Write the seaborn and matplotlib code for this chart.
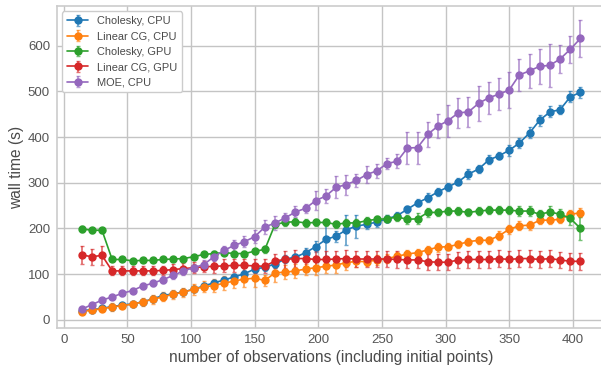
import matplotlib
matplotlib.use("Agg")
import matplotlib.pyplot as plt
import seaborn as sns

# number of observations at each measurement
n_obs = list(range(14, 407, 8))

labels = ["Cholesky, CPU", "Linear CG, CPU", "Cholesky, GPU", "Linear CG, GPU", "MOE, CPU"]

chol_cpu = [20, 22, 25, 29, 32, 35, 39, 46, 53, 57, 61, 67, 74, 81, 87, 94, 101, 111, 115, 122,
            133, 137, 147, 160, 176, 183, 197, 205, 209, 214, 221, 228, 242, 256, 267, 280, 291, 302, 319, 330,
            350, 359, 371, 387, 409, 437, 455, 460, 488, 498]
chol_cpu_err = [3, 3, 3, 4, 4, 4, 5, 5, 5, 5, 5, 6, 6, 6, 7, 7, 8, 8, 8, 8,
                8, 8, 10, 12, 42, 12, 33, 25, 11, 10, 8, 8, 8, 8, 10, 8, 8, 8, 10, 8,
                10, 8, 12, 10, 12, 12, 12, 10, 12, 12]

cg_cpu = [18, 21, 24, 28, 31, 34, 39, 45, 50, 56, 60, 67, 72, 75, 80, 85, 89, 91, 86, 103,
          104, 107, 111, 114, 117, 120, 125, 128, 127, 131, 134, 139, 144, 147, 153, 159, 160, 165, 171, 174,
          174, 184, 198, 206, 207, 218, 218, 220, 231, 234]
cg_cpu_err = [3, 3, 4, 8, 5, 5, 8, 10, 10, 10, 10, 12, 12, 15, 15, 15, 18, 20, 12, 20,
              15, 15, 12, 15, 15, 18, 15, 12, 10, 10, 10, 10, 8, 8, 8, 10, 8, 8, 8, 8,
              8, 10, 10, 10, 10, 8, 8, 8, 10, 10]

chol_gpu = [199, 196, 196, 132, 132, 129, 130, 130, 132, 133, 134, 138, 143, 145, 147, 145, 145, 150, 154, 209,
            213, 215, 212, 213, 213, 209, 212, 212, 217, 220, 221, 225, 220, 221, 235, 235, 238, 238, 235, 238,
            240, 240, 240, 238, 238, 231, 236, 231, 222, 200]
chol_gpu_err = [6, 5, 5, 4, 4, 4, 4, 4, 4, 4, 4, 4, 4, 5, 5, 5, 5, 6, 8, 8,
                8, 8, 8, 8, 8, 8, 8, 8, 8, 8, 8, 8, 10, 12, 10, 8, 8, 8, 8, 8,
                8, 8, 8, 10, 10, 10, 12, 12, 15, 25]

cg_gpu = [142, 138, 141, 107, 107, 107, 107, 107, 108, 110, 112, 114, 116, 117, 118, 119, 119, 118, 117, 129,
          132, 134, 134, 132, 132, 133, 134, 133, 133, 133, 133, 132, 131, 131, 127, 126, 126, 131, 132, 132,
          132, 134, 132, 134, 134, 132, 134, 131, 128, 128]
cg_gpu_err = [20, 18, 20, 10, 10, 10, 10, 10, 10, 12, 12, 12, 12, 14, 14, 15, 15, 15, 15, 16,
              18, 18, 18, 18, 18, 18, 18, 18, 18, 18, 18, 18, 18, 18, 18, 18, 18, 18, 18, 18,
              18, 18, 18, 18, 18, 18, 18, 18, 18, 18]

moe_cpu = [23, 33, 43, 50, 58, 64, 74, 80, 88, 97, 107, 114, 121, 138, 152, 163, 171, 182, 203, 212,
           223, 236, 244, 261, 271, 290, 296, 305, 318, 326, 342, 347, 376, 377, 406, 424, 436, 453, 455, 474,
           486, 494, 503, 536, 545, 555, 557, 571, 592, 616]
moe_cpu_err = [3, 4, 4, 4, 5, 5, 6, 6, 7, 7, 8, 8, 9, 10, 10, 12, 12, 14, 15, 15,
               10, 12, 10, 20, 15, 24, 22, 15, 18, 15, 12, 15, 35, 35, 28, 27, 35, 33, 33, 38,
               35, 35, 40, 35, 37, 38, 47, 30, 30, 40]

x_ticks = [0, 50, 100, 150, 200, 250, 300, 350, 400]
y_ticks = [0, 100, 200, 300, 400, 500, 600]

sns.set_theme(style="whitegrid", rc={
    "grid.color": "#c4c4c4",
    "grid.linewidth": 1.0,
    "axes.edgecolor": "#cccccc",
    "axes.linewidth": 1.2,
    "text.color": "#4a4a4a",
    "axes.labelcolor": "#4a4a4a",
    "xtick.color": "#555555",
    "ytick.color": "#555555",
})
plt.rcParams["font.family"] = ["Liberation Sans", "DejaVu Sans"]

palette = sns.color_palette("tab10", 5)

fig = plt.figure(figsize=(6.01, 3.67), dpi=100)
ax = fig.add_axes([0.0943, 0.1063, 0.913, 0.8774])

series = [(chol_cpu, chol_cpu_err), (cg_cpu, cg_cpu_err), (chol_gpu, chol_gpu_err),
          (cg_gpu, cg_gpu_err), (moe_cpu, moe_cpu_err)]

for label, (vals, errs), color in zip(labels, series, palette):
    cont = ax.errorbar(n_obs, vals, yerr=errs, fmt="-o", color=color, ms=5, lw=1.2,
                       elinewidth=1.3, capsize=1.5, capthick=1.0, label=label)
    for bar in cont[2]:
        bar.set_alpha(0.65)
    for cap in cont[1]:
        cap.set_alpha(0.65)

ax.set_xlim(-5.6, 425.6)
ax.set_ylim(-18, 687)
ax.set_xticks(x_ticks)
ax.set_yticks(y_ticks)
ax.tick_params(axis="both", labelsize=9.5, length=0)
ax.tick_params(axis="x", pad=4.5)
ax.tick_params(axis="y", pad=4.8)
ax.set_xlabel("number of observations (including initial points)", fontsize=11.2, labelpad=3)
ax.set_ylabel("wall time (s)", fontsize=11.2, labelpad=3)

leg = ax.legend(loc="upper left", fontsize=7.9, labelspacing=0.5, frameon=True,
                facecolor="white", edgecolor="#cccccc", framealpha=1.0)

fig.savefig("out.png", dpi=100)
